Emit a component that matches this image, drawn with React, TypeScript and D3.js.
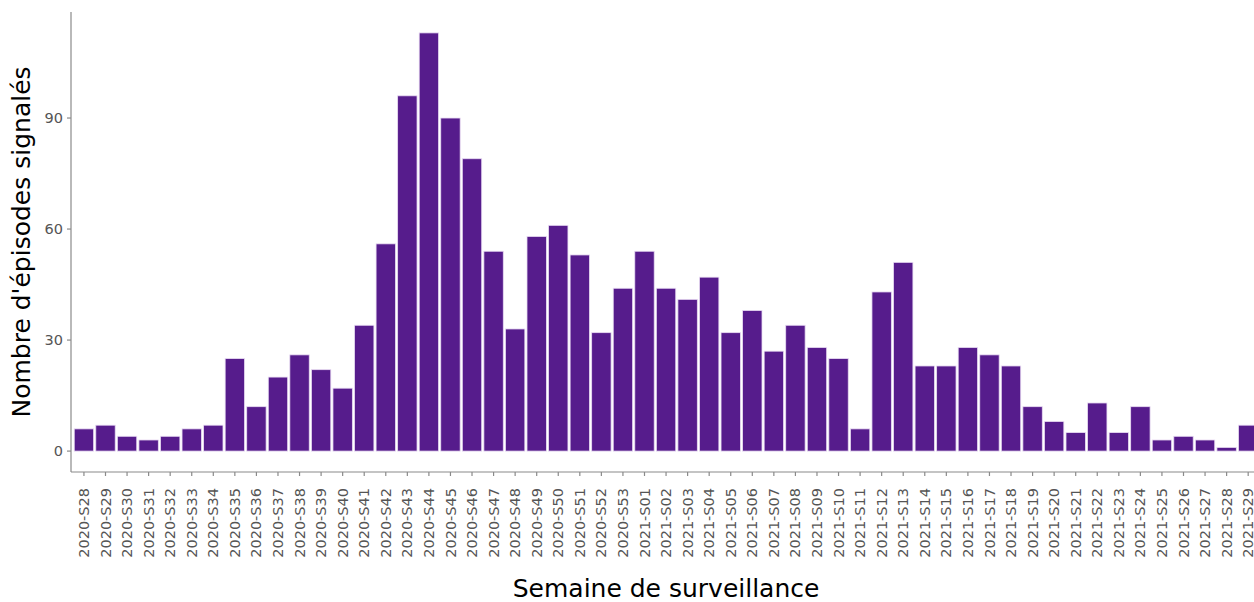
import React from "react";
import * as d3 from "d3";

const weeks2020: string[] = [
  "S28","S29","S30","S31","S32","S33","S34","S35","S36","S37","S38","S39","S40",
  "S41","S42","S43","S44","S45","S46","S47","S48","S49","S50","S51","S52","S53",
];
const weeks2021: string[] = [
  "S01","S02","S03","S04","S05","S06","S07","S08","S09","S10","S11","S12","S13","S14","S15",
  "S16","S17","S18","S19","S20","S21","S22","S23","S24","S25","S26","S27","S28","S29",
];
const values2020: number[] = [6,7,4,3,4,6,7,25,12,20,26,22,17,34,56,96,113,90,79,54,33,58,61,53,32,44];
const values2021: number[] = [54,44,41,47,32,38,27,34,28,25,6,43,51,23,23,28,26,23,12,8,5,13,5,12,3,4,3,1,7];
const yTicks: number[] = [0, 30, 60, 90];

const categories = [
  ...weeks2020.map((w) => `2020-${w}`),
  ...weeks2021.map((w) => `2021-${w}`),
];
const values = [...values2020, ...values2021];
const data = categories.map((c, i) => ({ c, v: values[i] }));

const W = 1254, H = 602;
const plotLeft = 71, plotTop = 12, plotBottom = 472;
const stepPx = 21.56;
const plotRight = plotLeft + stepPx * (categories.length + 0.2);

export default function App() {
  // ggplot-like discrete axis: 0.6 units of expansion on each side, bars 0.9 of a step
  const xs = d3.scalePoint<string>().domain(categories)
    .range([plotLeft + stepPx * 0.6, plotRight - stepPx * 0.6]);
  const ymax = d3.max(values) as number;
  const y = d3.scaleLinear().domain([-0.05 * ymax, ymax * 1.05]).range([plotBottom, plotTop]);
  const bw = xs.step() * 0.9;
  const font = "'DejaVu Sans', Verdana, sans-serif";
  const textCol = "#555555";
  const axisCol = "#8a8a8a";
  return (
    <svg width={W} height={H} style={{ position: "absolute", left: 0, top: 0, background: "#fff" }}
      fontFamily={font}>
      {data.map((d) => (
        <rect key={d.c} x={(xs(d.c) as number) - bw / 2} width={bw}
          y={y(d.v)} height={y(0) - y(d.v)} fill="#561c8c" stroke="#e9dcf3" strokeWidth={0.8} />
      ))}
      <line x1={plotLeft} x2={plotLeft} y1={plotTop} y2={plotBottom} stroke={axisCol} strokeWidth={1.2} />
      <line x1={plotLeft} x2={plotRight} y1={plotBottom} y2={plotBottom} stroke={axisCol} strokeWidth={1.2} />
      {yTicks.map((t) => (
        <g key={t}>
          <line x1={plotLeft - 4} x2={plotLeft} y1={y(t)} y2={y(t)} stroke={axisCol} strokeWidth={1.2} />
          <text x={plotLeft - 8} y={y(t)} dy="0.35em" textAnchor="end" fontSize={14.5} fill={textCol}>{t}</text>
        </g>
      ))}
      {categories.map((c) => {
        const cx = xs(c) as number;
        return (
          <g key={c}>
            <line x1={cx} x2={cx} y1={plotBottom} y2={plotBottom + 4} stroke={axisCol} strokeWidth={1.2} />
            <text transform={`translate(${cx},${plotBottom + 16}) rotate(-90)`} dy="0.35em"
              textAnchor="end" fontSize={14.5} fill={textCol}>{c}</text>
          </g>
        );
      })}
      <text x={(plotLeft + plotRight) / 2} y={597} textAnchor="middle" fontSize={25} fill="#000">
        Semaine de surveillance
      </text>
      <text transform={`translate(30,${(plotTop + plotBottom) / 2}) rotate(-90)`} textAnchor="middle"
        fontSize={25} fill="#000">Nombre d'épisodes signalés</text>
    </svg>
  );
}
